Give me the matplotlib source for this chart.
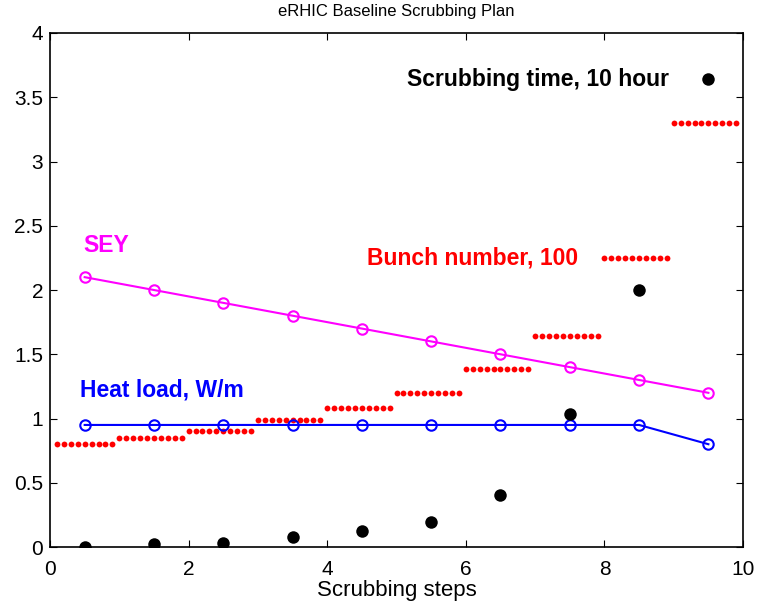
import numpy as np
import matplotlib.pyplot as plt

plt.rcParams['font.family'] = ['Liberation Sans', 'DejaVu Sans']

# scrubbing steps (centres)
steps = [0.5, 1.5, 2.5, 3.5, 4.5, 5.5, 6.5, 7.5, 8.5, 9.5]
sey = [2.1, 2.0, 1.9, 1.8, 1.7, 1.6, 1.5, 1.4, 1.3, 1.2]
heat_load = [0.95, 0.95, 0.95, 0.95, 0.95, 0.95, 0.95, 0.95, 0.95, 0.8]
scrub_time = [0.0, 0.02, 0.033, 0.08, 0.124, 0.197, 0.405, 1.033, 2.0, 3.64]
# bunch number (x100) held during each step, sampled every 0.1
bunch_per_step = [0.8, 0.85, 0.905, 0.985, 1.08, 1.2, 1.385, 1.645, 2.25, 3.3]
bunch_x = [round(0.1 * i, 1) for i in range(1, 100)]
bunch_y = [bunch_per_step[int(x + 1e-9)] for x in bunch_x]

fig = plt.figure(figsize=(7.59, 6.11), dpi=100)
ax = fig.add_axes([0.0659, 0.1047, 0.9131, 0.8413])

ax.plot(bunch_x, bunch_y, 'o', color='red', markersize=4.2, markeredgewidth=0)
ax.plot(steps, sey, '-o', color='magenta', markersize=7.5, markerfacecolor='none',
        markeredgewidth=1.5, linewidth=1.5)
ax.plot(steps, heat_load, '-o', color='blue', markersize=7.5, markerfacecolor='none',
        markeredgewidth=1.5, linewidth=1.5)
ax.plot(steps, scrub_time, 'o', color='black', markersize=9, markeredgewidth=0)

bold = dict(fontsize=16.5, fontweight='bold')
ax.text(0.48, 2.35, 'SEY', color='magenta', va='center', **bold)
ax.text(4.57, 2.25, 'Bunch number, 100', color='red', va='center', **bold)
ax.text(0.43, 1.22, 'Heat load, W/m', color='blue', va='center', **bold)
ax.text(5.15, 3.64, 'Scrubbing time, 10 hour', color='black', va='center', **bold)

ax.set_xlim(0, 10)
ax.set_ylim(0, 4)
ax.set_xticks([0, 2, 4, 6, 8, 10])
ax.set_yticks([0, 0.5, 1, 1.5, 2, 2.5, 3, 3.5, 4])
ax.set_yticklabels(['0', '0.5', '1', '1.5', '2', '2.5', '3', '3.5', '4'])
ax.tick_params(direction='in', top=True, right=True, labelsize=15, length=5, width=0.8)
ax.tick_params(axis='y', pad=5)
ax.tick_params(axis='x', pad=9)
for s in ax.spines.values():
    s.set_linewidth(1.2)
ax.set_xlabel('Scrubbing steps', fontsize=16, labelpad=1)
ax.set_title('eRHIC Baseline Scrubbing Plan', fontsize=12, pad=12)

fig.savefig('out.png', dpi=100)
